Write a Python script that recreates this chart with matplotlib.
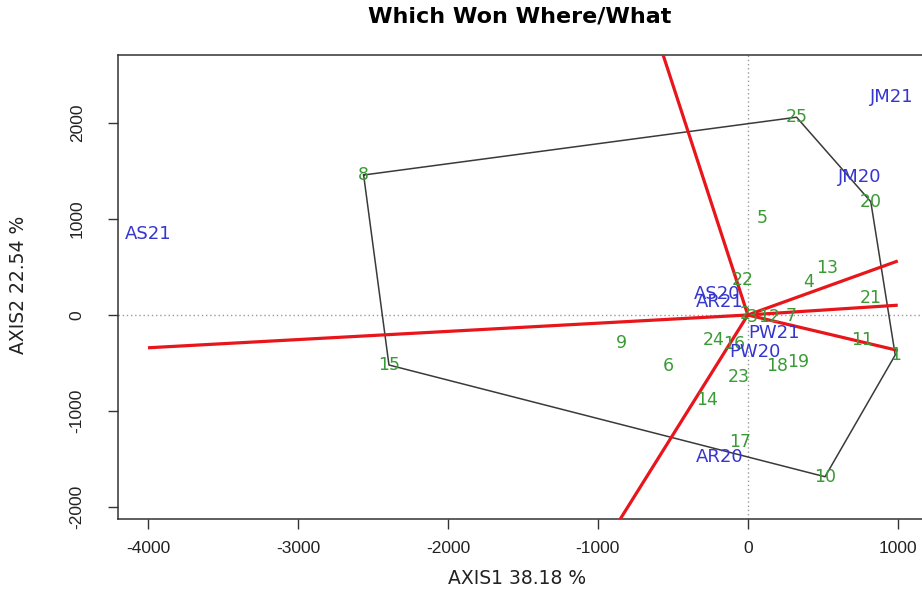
import numpy as np
import matplotlib
matplotlib.use("Agg")
import matplotlib.pyplot as plt

# ---- data ----
gen_labels = [str(i) for i in range(1, 26)]
gen_x = [983, -20, 30, 406, 94, -531, 290, -2562, -843, 515, 763, 145, 528,
         -274, -2393, -90, -51, 194, 339, 820, 818, -35, -62, -230, 325]
gen_y = [-417, 10, -25, 347, 1007, -531, -10, 1458, -295, -1685, -260, -20, 486,
         -885, -521, -300, -1320, -531, -486, 1180, 174, 365, -649, -260, 2060]

env_labels = ["AS20", "AR21", "PW21", "PW20", "AR20", "JM20", "JM21", "AS21"]
env_x = [-207, -185, 172, 49, -185, 745, 963, -4000]
env_y = [219, 139, -184, -382, -1476, 1441, 2268, 844]

title = "Which Won Where/What"
xlabel = "AXIS1 38.18 %"
ylabel = "AXIS2 22.54 %"
xticks = [-4000, -3000, -2000, -1000, 0, 1000]
yticks = [-2000, -1000, 0, 1000, 2000]

# extent of the sector rays
ray_xmin, ray_xmax, ray_ymin, ray_ymax = -4000, 1000, -3000, 3000


def convex_hull(pts):
    pts = sorted(set(pts))
    def cross(o, a, b):
        return (a[0]-o[0])*(b[1]-o[1]) - (a[1]-o[1])*(b[0]-o[0])
    lower, upper = [], []
    for p in pts:
        while len(lower) >= 2 and cross(lower[-2], lower[-1], p) <= 0:
            lower.pop()
        lower.append(p)
    for p in reversed(pts):
        while len(upper) >= 2 and cross(upper[-2], upper[-1], p) <= 0:
            upper.pop()
        upper.append(p)
    return lower[:-1] + upper[:-1]


plt.rcParams['font.family'] = ['Liberation Sans', 'DejaVu Sans']
WIDE = ['DejaVu Sans', 'Liberation Sans']

fig = plt.figure(figsize=(9.22, 5.90), dpi=100)
ax = fig.add_axes([118/922, 71/590, 1.003 - 118/922, 464/590])

ax.set_xlim(-4200, 1180)
ax.set_ylim(-2125, 2708)

# reference lines
ax.axhline(0, color="#999999", lw=1.0, ls=(0, (1, 2)), zorder=1)
ax.axvline(0, color="#999999", lw=1.0, ls=(0, (1, 2)), zorder=1)

# polygon (convex hull of genotypes)
hull = convex_hull(list(zip(gen_x, gen_y)))
hx = [p[0] for p in hull] + [hull[0][0]]
hy = [p[1] for p in hull] + [hull[0][1]]
ax.plot(hx, hy, color="#3a3a3a", lw=1.1, zorder=2)

# perpendicular rays from origin to each hull side
for i in range(len(hull)):
    p1 = np.array(hull[i], float)
    p2 = np.array(hull[(i + 1) % len(hull)], float)
    d = p2 - p1
    n = np.array([-d[1], d[0]])
    n /= np.linalg.norm(n)
    if np.dot(n, p1) < 0:
        n = -n
    ts = []
    if n[0] > 0:
        ts.append(ray_xmax / n[0])
    elif n[0] < 0:
        ts.append(ray_xmin / n[0])
    if n[1] > 0:
        ts.append(ray_ymax / n[1])
    elif n[1] < 0:
        ts.append(ray_ymin / n[1])
    t = min(ts)
    ax.plot([0, n[0]*t], [0, n[1]*t], color="#e8151b", lw=2.3, zorder=3,
            solid_capstyle="butt")

# genotype labels
for lab, x, y in zip(gen_labels, gen_x, gen_y):
    ax.text(x, y, lab, color="#3a9a35", fontsize=12.5, ha="center", va="center",
            family=WIDE, zorder=4)

# environment labels
for lab, x, y in zip(env_labels, env_x, env_y):
    ax.text(x, y, lab, color="#3535d0", fontsize=13, ha="center", va="center",
            family=WIDE, zorder=5)

ax.set_xticks(xticks)
ax.set_xticklabels([str(v) for v in xticks])
ax.set_yticks(yticks)
ax.set_yticklabels([str(v) for v in yticks], rotation=90, va="center")
ax.tick_params(axis="both", direction="out", length=7, width=1, colors="#333333",
               labelsize=12.5, labelcolor="#222222")
ax.tick_params(axis="x", pad=9)
ax.tick_params(axis="y", pad=17)
for s in ["left", "bottom", "top"]:
    ax.spines[s].set_color("#333333")
    ax.spines[s].set_linewidth(1.1)
ax.spines["right"].set_visible(False)

fig.text(520/922, 1 - 17/590, title, ha="center", va="center",
         fontsize=16, fontweight="bold", family=WIDE)
fig.text(517/922, 1 - 578/590, xlabel, ha="center", va="center", fontsize=13.5,
         color="#222222", family=WIDE)
fig.text(19/922, 1 - 285/590, ylabel, ha="center", va="center", fontsize=13.5,
         rotation=90, color="#222222", family=WIDE)

fig.savefig("out.png", dpi=100)
